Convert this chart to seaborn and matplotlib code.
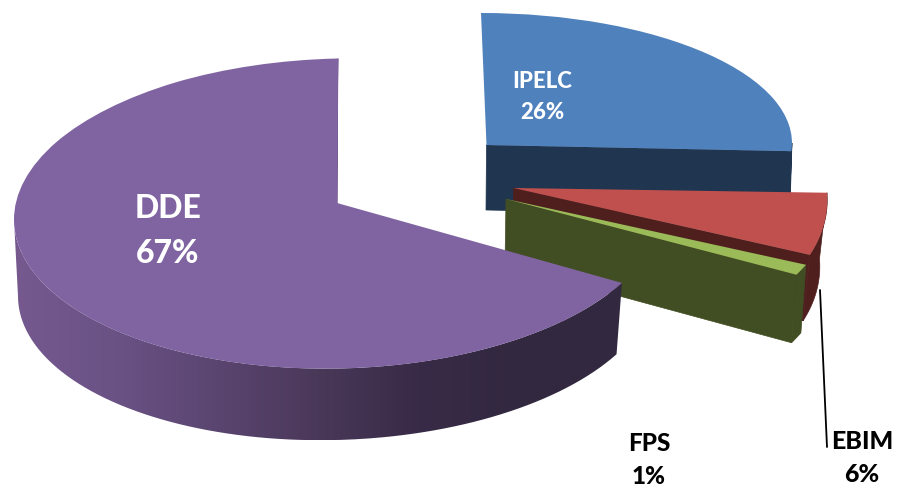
import numpy as np
import matplotlib
matplotlib.use('Agg')
import matplotlib.pyplot as plt
from matplotlib.patches import PathPatch
from matplotlib.path import Path
from matplotlib.transforms import Transform
import seaborn as sns

# chart data
labels = ['IPELC', 'EBIM', 'FPS', 'DDE']
shares = [26, 6, 1, 67]

top_colors = ['#4f81bd', '#c0504d', '#9bbb59', '#8064a2']
side_colors = [['#1f3550'], ['#4f1f1e'], ['#414d22'],
               ['#75598f', '#6a5285', '#5a4570', '#4a3859', '#382b47', '#32283f', '#32283f']]

# projected rim of each slice, in pixels: apex, rim centre, radii, shear
top_geom = [dict(px=486.5, py=145, cx=481, cy=143, a=311, b=130),
            dict(px=513.5, py=188, cx=513.5, cy=182, a=312, b=171, sx=33),
            dict(px=506, py=199, cx=506, cy=189, a=331.5, b=178),
            dict(px=337, py=203, cx=338, cy=213.5, a=324, b=155, sy=6)]
low_geom = [dict(px=486, py=210, cx=484, cy=208, a=306, b=130),
            dict(px=513, py=250, cx=513, cy=248, a=305, b=171, sx=33),
            dict(px=505, py=265, cx=505, cy=257, a=327, b=178),
            dict(px=337, py=270, cx=337, cy=288, a=319, b=152, sy=8)]


class RimTransform(Transform):
    # maps the unit pie onto a tilted rim with its own apex
    input_dims = 2
    output_dims = 2

    def __init__(self, px, py, cx, cy, a, b, sx=0, sy=0):
        super().__init__()
        self.g = (px, py, cx, cy, a, b, sx, sy)

    def transform_non_affine(self, values):
        px, py, cx, cy, a, b, sx, sy = self.g
        u, v = np.asarray(values).T
        r = np.hypot(u, v)
        x = px * (1 - r) + cx * r + a * u - sx * v
        y = py * (1 - r) + cy * r - b * v - sy * u
        return np.column_stack([x, y])


def unit_rim(theta):
    return np.column_stack([np.cos(np.radians(theta)), np.sin(np.radians(theta))])


sns.set_theme(style='white')
plt.rcParams['font.family'] = ['Lato', 'DejaVu Sans']

fig = plt.figure(figsize=(8.97, 4.87), dpi=100)
ax = fig.add_axes([0, 0, 1, 1])
wedges, _ = ax.pie(shares, colors=sns.color_palette(top_colors), startangle=90,
                   counterclock=False, wedgeprops=dict(linewidth=0))

for i, w in enumerate(wedges):
    top = RimTransform(**top_geom[i])
    low = RimTransform(**low_geom[i])
    w.set_transform(top + ax.transData)
    w.set_zorder(i + 1.5)
    w.set_clip_on(False)

    # radial face at the clockwise end of the slice
    apex = np.zeros((1, 2))
    end = unit_rim(np.array([w.theta1]))
    face = np.vstack([top.transform(apex), top.transform(end),
                      low.transform(end), low.transform(apex)])
    ax.fill(face[:, 0], face[:, 1], color=side_colors[i][0], lw=0.5, zorder=i + 1.2)

    # outer wall, shaded along x when the slice has more than one side colour
    # the back of the wall is hidden, so only the front half of the rim is used
    thetas = np.linspace(max(w.theta1, -180), min(w.theta2, 0), 241)
    wall = np.vstack([top.transform(unit_rim(thetas)),
                      low.transform(unit_rim(thetas))[::-1]])
    if len(side_colors[i]) == 1:
        ax.fill(wall[:, 0], wall[:, 1], color=side_colors[i][0], lw=0.5, zorder=i + 1.1)
    else:
        shades = np.array(sns.blend_palette(side_colors[i], 256))[None, :, :3]
        im = ax.imshow(shades, aspect='auto', zorder=i + 1.1,
                       extent=(wall[:, 0].min(), wall[:, 0].max(),
                               wall[:, 1].max(), wall[:, 1].min()))
        clip = PathPatch(Path(wall, closed=False), transform=ax.transData)
        im.set_clip_path(clip)

ax.set_aspect('auto')
ax.set_xlim(0, 897)
ax.set_ylim(487, 0)
ax.axis('off')

# leader line of the EBIM label
ax.plot([820, 827], [290, 447], color='black', lw=1.3, zorder=6)

names = dict(zip(labels, shares))
text_style = {
    'IPELC': dict(x=542, y=97, color='white', fontsize=16, spacing=1.55),
    'EBIM': dict(x=862, y=458, color='black', fontsize=18, spacing=1.55),
    'FPS': dict(x=649, y=460, color='black', fontsize=17.5, spacing=1.55),
    'DDE': dict(x=168, y=231, color='white', fontsize=23, spacing=1.7),
}
for name, st in text_style.items():
    ax.text(st['x'], st['y'], f"{name}\n{names[name]}%", color=st['color'],
            fontsize=st['fontsize'], fontweight='black', ha='center', va='center',
            linespacing=st['spacing'], zorder=7)

fig.savefig('out.png', dpi=100)
plt.close(fig)
